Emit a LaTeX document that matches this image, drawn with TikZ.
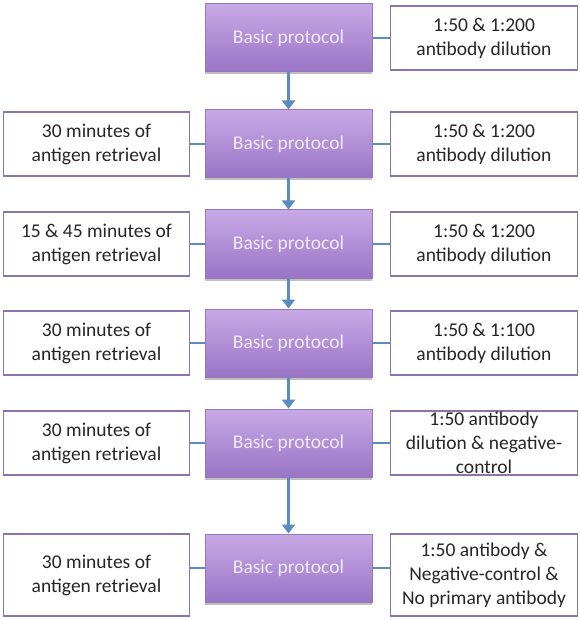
\documentclass[tikz,border=0pt]{standalone}
\usepackage{fontspec}
\setmainfont{Carlito}
\usetikzlibrary{shadows,arrows.meta}
\definecolor{pborder}{HTML}{9478BA}
\definecolor{ptop}{HTML}{C8A9E6}
\definecolor{pbot}{HTML}{9A74C6}
\definecolor{ptext}{HTML}{F3EAFA}
\definecolor{sborder}{HTML}{8A73AE}
\definecolor{conn}{HTML}{5A8CC2}
\definecolor{stext}{HTML}{262626}
\tikzset{
  proto/.style={draw=pborder, line width=1pt, top color=ptop, bottom color=pbot,
    minimum width=167pt, minimum height=68pt, inner sep=0pt,
    text=ptext, font=\fontsize{19.5}{24}\selectfont,
    drop shadow={shadow xshift=0pt, shadow yshift=-2.5pt, opacity=0.25, fill=black}},
  side/.style={draw=sborder, line width=1.8pt, fill=white,
    minimum height=64pt, inner sep=0pt, align=center,
    text=stext, font=\fontsize{19.5}{24}\selectfont},
  lbox/.style={side, minimum width=186pt},
  rbox/.style={side, minimum width=187pt},
  link/.style={draw=conn, line width=2.6pt},
  flow/.style={draw=conn, line width=2.6pt, -{Triangle[length=9pt,width=13pt]}}
}
\begin{document}
\begin{tikzpicture}[x=1pt,y=-1pt]
\useasboundingbox (0,0) rectangle (579,620);
% purple boxes
\node[proto] (p1) at (288.5,38) {Basic protocol};
\node[proto] (p2) at (288.5,144) {Basic protocol};
\node[proto] (p3) at (288.5,244) {Basic protocol};
\node[proto] (p4) at (288.5,343) {Basic protocol};
\node[proto] (p5) at (288.5,443) {Basic protocol};
\node[proto] (p6) at (288.5,568) {Basic protocol};
% right boxes
\node[rbox] (r1) at (484,38) {1:50 \& 1:200\\antibody dilution};
\node[rbox] (r2) at (484,144) {1:50 \& 1:200\\antibody dilution};
\node[rbox] (r3) at (484,244) {1:50 \& 1:200\\antibody dilution};
\node[rbox] (r4) at (484,343) {1:50 \& 1:100\\antibody dilution};
\node[rbox] (r5) at (484,443) {1:50 antibody\\dilution \& negative-\\control};
\node[rbox, minimum height=82pt] (r6) at (484,575) {1:50 antibody \&\\Negative-control \&\\No primary antibody};
% left boxes
\node[lbox] (l2) at (96.5,144) {30 minutes of\\antigen retrieval};
\node[lbox] (l3) at (96.5,244) {15 \& 45 minutes of\\antigen retrieval};
\node[lbox] (l4) at (96.5,343) {30 minutes of\\antigen retrieval};
\node[lbox] (l5) at (96.5,443) {30 minutes of\\antigen retrieval};
\node[lbox, minimum height=82pt] (l6) at (96.5,575) {30 minutes of\\antigen retrieval};
% horizontal links
\foreach \i in {1,...,6} {
  \draw[link] (p\i.east) -- (p\i.east -| r\i.west);
}
\foreach \i in {2,...,6} {
  \draw[link] (p\i.west) -- (p\i.west -| l\i.east);
}
% vertical arrows
\draw[flow] (p1) -- (p2);
\draw[flow] (p2) -- (p3);
\draw[flow] (p3) -- (p4);
\draw[flow] (p4) -- (p5);
\draw[flow] (p5) -- (p6);
\end{tikzpicture}
\end{document}
